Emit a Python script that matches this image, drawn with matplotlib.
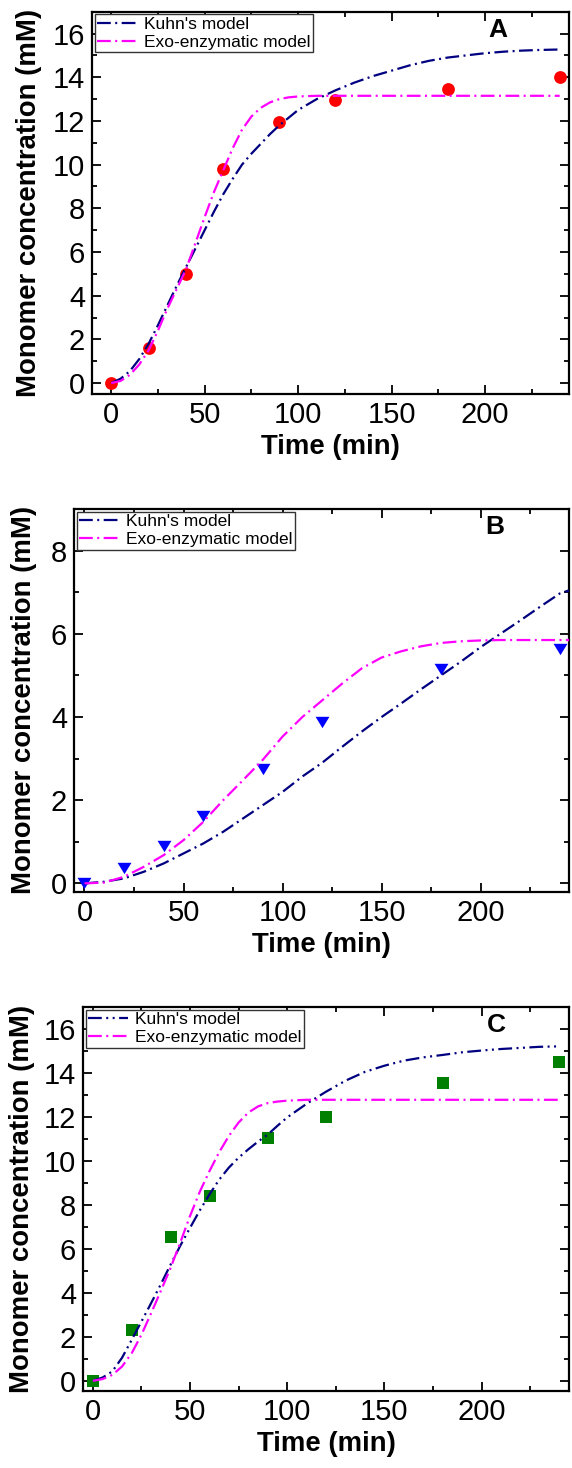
import matplotlib
matplotlib.use("Agg")
import matplotlib.pyplot as plt
from matplotlib.ticker import MultipleLocator

plt.rcParams["font.family"] = ["Liberation Sans", "DejaVu Sans"]

# Sampling times (min) of the measured monomer concentrations
time_pts = [0, 20, 40, 60, 90, 120, 180, 240]
a_data = [0.0, 1.6, 5.0, 9.8, 11.95, 12.95, 13.45, 14.0]
b_data = [0.0, 0.37, 0.91, 1.61, 2.76, 3.87, 5.16, 5.63]
c_data = [0.0, 2.33, 6.55, 8.4, 11.03, 12.0, 13.54, 14.5]

# Model curves (min, mM)
t_fine = [0, 5, 10, 15, 20, 25, 30, 35, 40, 45, 50, 55, 60, 65, 70, 75, 80,
          85, 90, 95, 100, 110, 120, 130, 140, 150, 160, 170, 180, 190, 200,
          210, 220, 230, 240]
a_kuhn = [0.0, 0.2, 0.55, 1.1, 1.8, 2.65, 3.55, 4.45, 5.3, 6.15, 7.0, 7.85,
          8.65, 9.35, 10.0, 10.5, 10.95, 11.4, 11.8, 12.15, 12.5, 13.0, 13.4,
          13.75, 14.05, 14.3, 14.55, 14.75, 14.9, 15.0, 15.1, 15.17, 15.22,
          15.25, 15.27]
a_exo = [0.0, 0.1, 0.38, 0.85, 1.5, 2.4, 3.4, 4.3, 5.2, 6.4, 7.6, 8.75, 9.75,
         10.75, 11.6, 12.2, 12.6, 12.85, 13.0, 13.08, 13.12, 13.15, 13.15,
         13.15, 13.15, 13.15, 13.15, 13.15, 13.15, 13.15, 13.15, 13.15, 13.15,
         13.15, 13.15]
c_kuhn = [0.0, 0.15, 0.43, 1.05, 1.87, 2.7, 3.54, 4.4, 5.29, 6.15, 6.96, 7.75,
          8.48, 9.15, 9.7, 10.15, 10.53, 10.88, 11.2, 11.6, 11.98, 12.6, 13.15,
          13.65, 14.05, 14.33, 14.56, 14.71, 14.82, 14.94, 15.02, 15.09, 15.14,
          15.19, 15.21]
c_exo = [0.0, 0.08, 0.27, 0.65, 1.26, 2.1, 3.08, 4.1, 5.14, 6.3, 7.5, 8.6,
         9.54, 10.4, 11.14, 11.75, 12.2, 12.48, 12.63, 12.7, 12.74, 12.78,
         12.78, 12.78, 12.78, 12.78, 12.78, 12.78, 12.78, 12.78, 12.78, 12.78,
         12.78, 12.78, 12.78]

t_coarse = [0, 10, 20, 30, 40, 50, 60, 70, 80, 90, 100, 110, 120, 130, 140,
            150, 160, 170, 180, 190, 200, 210, 220, 230, 240, 245]
b_kuhn = [0.0, 0.04, 0.12, 0.28, 0.48, 0.72, 0.96, 1.24, 1.56, 1.88, 2.2,
          2.57, 2.9, 3.28, 3.65, 4.0, 4.33, 4.67, 5.0, 5.33, 5.68, 6.0, 6.32,
          6.65, 6.97, 7.05]
b_exo = [0.0, 0.02, 0.16, 0.4, 0.68, 1.04, 1.48, 2.0, 2.48, 2.97, 3.53, 4.0,
         4.4, 4.8, 5.17, 5.43, 5.58, 5.7, 5.78, 5.82, 5.84, 5.85, 5.85, 5.85,
         5.85, 5.85]

legend_labels = ["Kuhn's model", "Exo-enzymatic model"]
panel_letters = ["A", "B", "C"]

KUHN_COLOR = "#000080"
EXO_COLOR = "#FF00FF"
DASH_DOT = (0, (6.2, 2.0, 0.9, 2.0))
DASH_DOT_DOT = (0, (6.2, 2.0, 0.9, 2.0, 0.9, 2.0))

# triangle marker, a bit wider than tall
tri_down = [(-1.0, 0.82), (1.0, 0.82), (0.0, -0.82), (-1.0, 0.82)]

fig = plt.figure(figsize=(5.72, 14.68), dpi=100)
W, H = 572.0, 1468.0


def add_axes_px(left, top, right, bottom):
    return fig.add_axes([left / W, 1 - bottom / H, (right - left) / W,
                         (bottom - top) / H])


panels = [
    dict(box=(92, 11.7, 569, 394), ylim=(-0.5, 17), xlim=(-10.3, 245),
         data=a_data, marker="o", ms=9.2, mcolor="#FF0000",
         t_model=t_fine, kuhn=a_kuhn, exo=a_exo, kuhn_ls=DASH_DOT,
         ylab_x=29),
    dict(box=(74, 509, 569, 891.7), ylim=(-0.2, 9.0), xlim=(-5.3, 244.6),
         data=b_data, marker=tri_down, ms=10.0, mcolor="#0000FF",
         t_model=t_coarse, kuhn=b_kuhn, exo=b_exo, kuhn_ls=DASH_DOT,
         ylab_x=24),
    dict(box=(83, 1007, 569, 1390.7), ylim=(-0.45, 17), xlim=(-5.1, 245),
         data=c_data, marker="s", ms=8.3, mcolor="#008000",
         t_model=t_fine, kuhn=c_kuhn, exo=c_exo, kuhn_ls=DASH_DOT_DOT,
         ylab_x=22),
]

for letter, p in zip(panel_letters, panels):
    ax = add_axes_px(*p["box"])
    ax.plot(time_pts, p["data"], linestyle="none", marker=p["marker"],
            markersize=p["ms"], color=p["mcolor"], markeredgewidth=0,
            zorder=2)
    ax.plot(p["t_model"], p["kuhn"], color=KUHN_COLOR, lw=1.6,
            linestyle=p["kuhn_ls"], label=legend_labels[0], zorder=3)
    ax.plot(p["t_model"], p["exo"], color=EXO_COLOR, lw=1.6,
            linestyle=DASH_DOT, label=legend_labels[1], zorder=3)

    ax.set_xlim(*p["xlim"])
    ax.set_ylim(*p["ylim"])
    ax.xaxis.set_major_locator(MultipleLocator(50))
    ax.xaxis.set_minor_locator(MultipleLocator(25))
    ax.yaxis.set_major_locator(MultipleLocator(2))
    ax.yaxis.set_minor_locator(MultipleLocator(1))
    ax.tick_params(which="both", direction="in", top=True, right=True,
                   width=1.3, colors="black")
    ax.tick_params(which="major", length=6.5, labelsize=21, pad=5)
    ax.tick_params(which="minor", length=3.6)
    for s in ax.spines.values():
        s.set_linewidth(1.6)

    ax.set_xlabel("Time (min)", fontsize=19.8, fontweight="bold", labelpad=4)
    ax.set_ylabel("Monomer concentration (mM)", fontsize=19.8,
                  fontweight="bold")
    ax.yaxis.set_label_coords((p["ylab_x"] - p["box"][0]) /
                              (p["box"][2] - p["box"][0]), 0.5)
    ax.yaxis.label.set_verticalalignment("center")

    leg = ax.legend(loc="upper left", fontsize=12.5, borderaxespad=0.15,
                    handlelength=2.3, handletextpad=0.4, borderpad=0.15,
                    labelspacing=0.15, fancybox=False, framealpha=1)
    leg.get_frame().set_edgecolor("#333333")
    leg.get_frame().set_linewidth(1.0)

    ax.text(0.85, 0.952, letter, transform=ax.transAxes, fontsize=19,
            fontweight="bold", ha="center", va="center")

fig.savefig("out.png", dpi=100)
